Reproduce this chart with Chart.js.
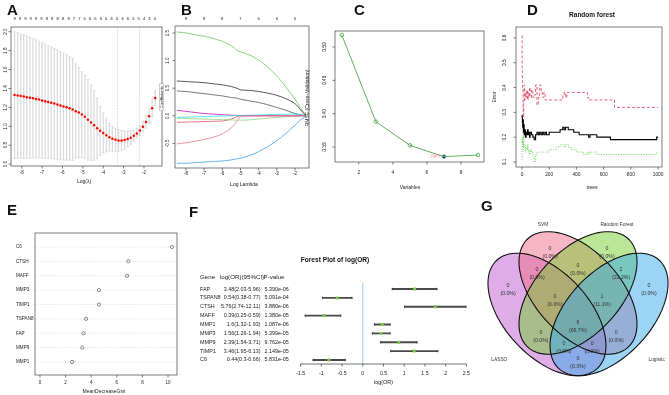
<!DOCTYPE html>
<html>
<head>
<meta charset="utf-8">
<title>Feature selection panels</title>
<script src="https://cdn.jsdelivr.net/npm/chart.js@4.4.1/dist/chart.umd.min.js"></script>
<style>
  body { margin: 0; background: #fff; }
  #page { position: relative; width: 669px; height: 395px; overflow: hidden; background: #fff; }
  #page canvas { position: absolute; left: 0; top: 0; }
</style>
</head>
<body>
<div id="page">
  <canvas id="panelA" width="669" height="395"></canvas>
  <canvas id="panelB" width="669" height="395"></canvas>
  <canvas id="panelC" width="669" height="395"></canvas>
  <canvas id="panelD" width="669" height="395"></canvas>
  <canvas id="panelE" width="669" height="395"></canvas>
  <canvas id="panelF" width="669" height="395"></canvas>
  <canvas id="panelG" width="669" height="395"></canvas>
</div>
<script>
// ---------- A : LASSO cross validation ----------
var aLogLambda = [-8.35,-8.2,-8.05,-7.9,-7.75,-7.6,-7.45,-7.3,-7.15,-7.0,-6.85,-6.7,-6.55,-6.4,-6.25,-6.1,-5.95,-5.8,-5.65,-5.5,
  -5.35,-5.2,-5.05,-4.9,-4.75,-4.6,-4.45,-4.3,-4.15,-4.0,-3.85,-3.7,-3.55,-3.4,-3.25,-3.1,-2.95,-2.8,-2.65,-2.5,
  -2.35,-2.2,-2.05,-1.9,-1.75,-1.6,-1.45];
var aCvMean = [1.330,1.325,1.320,1.314,1.308,1.302,1.296,1.289,1.282,1.274,1.266,1.258,1.249,1.240,1.230,1.220,1.210,1.200,1.190,1.178,
  1.160,1.145,1.125,1.100,1.070,1.040,1.010,0.980,0.952,0.928,0.905,0.885,0.868,0.857,0.850,0.850,0.855,0.865,0.880,0.900,
  0.925,0.955,0.995,1.045,1.105,1.190,1.300];
var aCvUpper = [2.000,1.990,1.978,1.966,1.953,1.940,1.927,1.913,1.899,1.885,1.870,1.855,1.840,1.824,1.808,1.792,1.775,1.757,1.738,1.716,
  1.660,1.620,1.580,1.540,1.495,1.440,1.380,1.300,1.210,1.140,1.080,1.030,1.000,0.978,0.965,0.955,0.950,0.948,0.950,0.958,
  0.975,1.005,1.050,1.110,1.180,1.280,1.380];
var aCvLower = [0.660,0.660,0.662,0.662,0.663,0.664,0.665,0.665,0.665,0.663,0.662,0.661,0.658,0.656,0.652,0.648,0.645,0.643,0.642,0.640,
  0.660,0.670,0.670,0.660,0.645,0.640,0.640,0.660,0.694,0.716,0.730,0.740,0.736,0.736,0.735,0.745,0.760,0.782,0.810,0.842,
  0.875,0.905,0.940,0.980,1.030,1.100,1.220];
var aNonzeroAt = [-8.35,-8.09,-7.82,-7.56,-7.29,-7.03,-6.76,-6.50,-6.23,-5.97,-5.70,-5.44,-5.17,-4.91,-4.64,-4.38,-4.11,-3.85,-3.58,-3.32,-3.05,-2.79,-2.52,-2.26,-1.99,-1.73,-1.46];
var aNonzero = [9,9,9,9,9,9,8,8,8,8,8,7,7,6,6,6,6,6,6,6,6,6,5,5,4,3,0];
var aLambdaMin = -3.3;
var aLambda1se = -2.22;

// ---------- B : coefficient paths ----------
var bLogLambda = [-8.5,-8,-7.5,-7,-6.5,-6,-5.5,-5.2,-5,-4.5,-4,-3.5,-3,-2.5,-2,-1.7,-1.4];
var bCoefGreen = [1.52,1.50,1.47,1.44,1.40,1.35,1.27,1.19,1.16,1.10,1.01,0.88,0.72,0.52,0.30,0.15,0];
var bCoefBlack = [0.63,0.62,0.61,0.60,0.58,0.56,0.53,0.50,0.47,0.46,0.44,0.41,0.37,0.31,0.22,0.11,0];
var bCoefGray = [0.45,0.44,0.42,0.40,0.38,0.36,0.33,0.32,0.30,0.27,0.24,0.20,0.15,0.10,0.04,0.02,0];
var bCoefMagenta = [0.10,0.08,0.06,0.04,0.03,0.02,0.01,0.005,0,0,0,0,0,0,0,0,0];
var bCoefCyan = [-0.03,-0.025,-0.02,-0.015,-0.01,-0.005,0,0.003,0.005,0.01,0.015,0.02,0.025,0.03,0.03,0.02,0];
var bCoefLime = [-0.045,-0.05,-0.055,-0.06,-0.065,-0.07,-0.075,-0.08,-0.08,-0.075,-0.06,-0.045,-0.03,-0.015,-0.005,0,0];
var bCoefRed = [-0.12,-0.115,-0.11,-0.105,-0.10,-0.095,-0.06,-0.02,0,0,0,0,0,0,0,0,0];
var bCoefPink = [-0.51,-0.49,-0.46,-0.43,-0.39,-0.33,-0.22,-0.10,-0.02,0,0,0,0,0,0,0,0];
var bCoefBlue = [-0.86,-0.86,-0.85,-0.84,-0.83,-0.82,-0.80,-0.78,-0.77,-0.72,-0.65,-0.56,-0.45,-0.32,-0.17,-0.08,0];
var bTopAt = [-8,-7,-6,-5,-4,-3,-2];
var bTop = [9,8,8,7,6,6,5];

// ---------- C : SVM-RFE ----------
var cVars = [1,3,5,7,9];
var cRmse = [0.518,0.388,0.3525,0.3355,0.338];
var cBest = 7;

// ---------- D : random forest error ----------
var dTrees = [1,3,5,8,10,13,16,20,25,30,35,40,45,50,55,60,70,80,90,100,110,120,130,140,150,160,170,180,200,220,
  250,280,300,310,320,330,340,360,380,400,420,450,480,490,500,550,600,650,680,690,800,900,990,1000];
var dOob = [0.29,0.28,0.26,0.24,0.27,0.22,0.25,0.21,0.23,0.20,0.22,0.21,0.23,0.21,0.22,0.20,0.22,0.21,0.20,0.19,
  0.21,0.22,0.21,0.22,0.21,0.22,0.21,0.22,0.21,0.22,0.22,0.22,0.23,0.24,0.23,0.24,0.24,0.23,0.23,0.22,
  0.22,0.21,0.21,0.21,0.20,0.21,0.20,0.20,0.19,0.19,0.19,0.19,0.19,0.20];
var dClass1 = [0.61,0.47,0.43,0.40,0.31,0.28,0.34,0.41,0.35,0.38,0.36,0.39,0.35,0.38,0.36,0.40,0.36,0.39,0.36,0.37,
  0.41,0.33,0.36,0.41,0.38,0.36,0.38,0.35,0.35,0.35,0.35,0.35,0.35,0.37,0.38,0.36,0.38,0.38,0.38,0.38,
  0.38,0.38,0.38,0.36,0.35,0.35,0.35,0.35,0.35,0.32,0.32,0.32,0.32,0.32];
var dClass2 = [0.11,0.20,0.17,0.19,0.15,0.21,0.17,0.16,0.17,0.14,0.16,0.15,0.17,0.14,0.15,0.13,0.15,0.14,0.12,0.10,
  0.13,0.14,0.14,0.14,0.14,0.14,0.14,0.14,0.14,0.15,0.15,0.16,0.17,0.17,0.16,0.17,0.17,0.16,0.15,0.15,
  0.14,0.14,0.13,0.14,0.13,0.14,0.13,0.13,0.13,0.13,0.13,0.13,0.13,0.14];

// ---------- E : variable importance ----------
var eGenes = ['C6','CTSH','MAFF','MMP3','TIMP1','TSPAN8','FAP','MMP9','MMP1'];
var eGini = [10.3,6.9,6.8,4.6,4.6,3.6,3.4,3.3,2.5];

// ---------- F : forest plot ----------
var fGenes = ['FAP','TSPAN8','CTSH','MAFF','MMP1','MMP3','MMP9','TIMP1','C6'];
var fOR = [3.48,0.54,5.76,0.39,1.6,1.56,2.39,3.46,0.44];
var fOrLow = [2.03,0.38,2.74,0.25,1.32,1.26,1.54,1.95,0.3];
var fOrHigh = [5.96,0.77,12.11,0.59,1.93,1.94,3.71,6.13,0.66];
var fPvalue = ['5.390e-06','5.091e-04','3.880e-06','1.380e-05','1.087e-06','5.399e-05','9.762e-05','2.149e-05','5.831e-05'];
var fLogOR = [1.25,-0.62,1.75,-0.94,0.47,0.44,0.87,1.24,-0.82];
var fLogLow = [0.71,-0.97,1.01,-1.39,0.28,0.23,0.43,0.67,-1.20];
var fLogHigh = [1.79,-0.26,2.49,-0.53,0.66,0.66,1.31,1.81,-0.42];
var fTicks = [-1.5,-1,-0.5,0,0.5,1,1.5,2,2.5];

// ---------- G : venn ----------
var gSets = ['LASSO','SVM','Random Forest','Logistic'];
var gRegions = ['SVM','RF','LASSO&SVM','SVM&RF','RF&Logistic','LASSO','Logistic','LASSO&SVM&RF','SVM&RF&Logistic',
  'all','LASSO&RF','SVM&Logistic','LASSO&RF&Logistic','LASSO&SVM&Logistic','LASSO&Logistic'];
var gCounts = [0,0,0,0,2,0,0,0,1,6,0,0,0,0,0];

// layout of the venn (unit square), not data
var vennShapes = [
  { cx: 0.35, cy: 0.47, a: 0.35, b: 0.2, angle: -45, fill: 'rgba(190,90,205,0.5)' },
  { cx: 0.50, cy: 0.57, a: 0.35, b: 0.2, angle: -45, fill: 'rgba(240,110,135,0.5)' },
  { cx: 0.50, cy: 0.57, a: 0.35, b: 0.2, angle: 45, fill: 'rgba(120,205,50,0.5)' },
  { cx: 0.65, cy: 0.47, a: 0.35, b: 0.2, angle: 45, fill: 'rgba(55,170,235,0.5)' }
];
var vennRegionPos = [[0.365,0.756],[0.640,0.756],[0.302,0.658],[0.5,0.681],[0.708,0.658],[0.162,0.584],[0.843,0.584],
  [0.389,0.533],[0.616,0.533],[0.5,0.412],[0.321,0.365],[0.684,0.365],[0.432,0.314],[0.568,0.314],[0.5,0.244]];
var vennSetPos = [[0.12,0.258],[0.331,0.886],[0.688,0.886],[0.88,0.258]];

var FONT = '"Liberation Sans", Arial, Helvetica, sans-serif';
var NARROW = '"Liberation Sans Narrow", "Liberation Sans", Arial, sans-serif';
var PAGE_W = 669, PAGE_H = 395;

function area(x0, y0, x1, y1) {
  return { padding: { left: x0, top: y0, right: PAGE_W - x1, bottom: PAGE_H - y1 } };
}

function drawText(ctx, s, x, y, o) {
  o = o || {};
  ctx.save();
  ctx.font = (o.bold ? 'bold ' : '') + (o.size || 5) + 'px ' + (o.family || FONT);
  ctx.fillStyle = o.color || '#222';
  ctx.textAlign = o.align || 'center';
  ctx.textBaseline = o.base || 'middle';
  ctx.translate(x, y);
  if (o.rot) ctx.rotate(-Math.PI / 2);
  ctx.fillText(s, 0, 0);
  ctx.restore();
}

function seg(ctx, x0, y0, x1, y1) {
  ctx.beginPath();
  ctx.moveTo(x0, y0);
  ctx.lineTo(x1, y1);
  ctx.stroke();
}

// base-R like frame, ticks and titles
var rAxes = {
  id: 'rAxes',
  afterDraw: function(chart, args, o) {
    var ctx = chart.ctx, a = chart.chartArea, xs = chart.scales.x, ys = chart.scales.y;
    var f = o.frame || [a.left, a.top, a.right, a.bottom];
    ctx.save();
    ctx.strokeStyle = '#444';
    ctx.lineWidth = 0.7;
    if (o.box) ctx.strokeRect(f[0], f[1], f[2] - f[0], f[3] - f[1]);
    if (o.xTicks) {
      o.xTicks.forEach(function(v) {
        var px = xs.getPixelForValue(v);
        seg(ctx, px, f[3], px, f[3] + 2.5);
        drawText(ctx, o.xFmt ? o.xFmt(v) : String(v), px, o.xLabelY, { size: o.tickSize || 5 });
      });
    }
    if (o.yTicks) {
      o.yTicks.forEach(function(v) {
        var py = ys.getPixelForValue(v);
        seg(ctx, f[0] - 2.5, py, f[0], py);
        drawText(ctx, o.yFmt ? o.yFmt(v) : String(v), o.yLabelX, py, { size: o.tickSize || 5, rot: true });
      });
    }
    if (o.xTitle) drawText(ctx, o.xTitle[0], o.xTitle[1], o.xTitle[2], { size: 5 });
    if (o.yTitle) drawText(ctx, o.yTitle[0], o.yTitle[1], o.yTitle[2], { size: 5, rot: true });
    if (o.title) drawText(ctx, o.title[0], o.title[1], o.title[2], { size: 6.5, bold: true, color: '#111' });
    if (o.letter) drawText(ctx, o.letter[0], o.letter[1], o.letter[2], { size: 15, bold: true, align: 'left', base: 'alphabetic', color: '#111' });
    ctx.restore();
  }
};
Chart.register(rAxes);

function baseOptions(pad, xr, yr, axes) {
  return {
    responsive: false,
    animation: false,
    devicePixelRatio: 1,
    events: [],
    layout: pad,
    scales: {
      x: { type: 'linear', display: false, min: xr[0], max: xr[1], offset: false },
      y: { type: 'linear', display: false, min: yr[0], max: yr[1], offset: false }
    },
    plugins: { legend: { display: false }, tooltip: { enabled: false }, rAxes: axes }
  };
}

function pairs(xsArr, ysArr) {
  return xsArr.map(function(x, i) { return { x: x, y: ysArr[i] }; });
}

// ---------------- A ----------------
var aExtras = {
  id: 'aExtras',
  beforeDatasetsDraw: function(chart) {
    var ctx = chart.ctx, xs = chart.scales.x, ys = chart.scales.y, a = chart.chartArea;
    ctx.save();
    ctx.strokeStyle = '#d2d2d2';
    ctx.lineWidth = 0.6;
    aLogLambda.forEach(function(l, i) {
      var px = xs.getPixelForValue(l);
      seg(ctx, px - 1.4, ys.getPixelForValue(aCvUpper[i]), px + 1.4, ys.getPixelForValue(aCvUpper[i]));
      seg(ctx, px - 1.4, ys.getPixelForValue(aCvLower[i]), px + 1.4, ys.getPixelForValue(aCvLower[i]));
    });
    ctx.strokeStyle = '#c4c4c4';
    ctx.setLineDash([1.5, 1.2]);
    [aLambdaMin, aLambda1se].forEach(function(l) {
      var px = xs.getPixelForValue(l);
      seg(ctx, px, a.top, px, a.bottom);
    });
    ctx.restore();
  },
  afterDraw: function(chart) {
    var xs = chart.scales.x;
    aNonzero.forEach(function(n, i) {
      drawText(chart.ctx, String(n), xs.getPixelForValue(aNonzeroAt[i]), 19, { size: 4.2 });
    });
  }
};

new Chart(document.getElementById('panelA'), {
  type: 'scatter',
  data: {
    datasets: [
      {
        type: 'bar',
        data: aLogLambda.map(function(l, i) { return { x: l, y: [aCvLower[i], aCvUpper[i]] }; }),
        backgroundColor: '#dadada',
        barThickness: 0.6,
        order: 2
      },
      {
        type: 'scatter',
        data: pairs(aLogLambda, aCvMean),
        pointRadius: 1.25,
        pointBackgroundColor: '#ff0000',
        pointBorderWidth: 0,
        order: 1
      }
    ]
  },
  options: baseOptions(area(11, 27, 162, 166), [-8.526, -1.116], [0.58, 2.05], {
    box: true,
    xTicks: [-8, -7, -6, -5, -4, -3, -2], xLabelY: 173,
    yTicks: [0.6, 0.8, 1.0, 1.2, 1.4, 1.6, 1.8, 2.0], yLabelX: 6, yFmt: function(v) { return v.toFixed(1); },
    tickSize: 4.5,
    xTitle: ['Log(\u03bb)', 84, 182],
    letter: ['A', 7, 15]
  }),
  plugins: [aExtras]
});

// ---------------- B ----------------
var bSeries = [
  [bCoefBlack, '#2b2b2b'], [bCoefPink, '#e8788a'], [bCoefGreen, '#61d04f'], [bCoefBlue, '#3aa2ea'],
  [bCoefCyan, '#28e2e5'], [bCoefMagenta, '#cd0bbc'], [bCoefLime, '#9ad07a'], [bCoefGray, '#555555'], [bCoefRed, '#df536b']
];
var bExtras = {
  id: 'bExtras',
  afterDraw: function(chart) {
    var ctx = chart.ctx, xs = chart.scales.x;
    bTop.forEach(function(n, i) {
      drawText(ctx, String(n), xs.getPixelForValue(bTopAt[i]), 19, { size: 4.2 });
    });
    ctx.save();
    ctx.fillStyle = '#fff';
    ctx.strokeStyle = '#999';
    ctx.lineWidth = 0.5;
    ctx.fillRect(159.5, 84, 4, 26);
    ctx.strokeRect(159.5, 84, 4, 26);
    ctx.restore();
    drawText(ctx, 'Coefficients', 161.5, 97, { size: 4.2, rot: true });
  }
};
new Chart(document.getElementById('panelB'), {
  type: 'scatter',
  data: {
    datasets: bSeries.map(function(s) {
      return { data: pairs(bLogLambda, s[0]), showLine: true, borderColor: s[1], borderWidth: 0.8, pointRadius: 0, tension: 0.3 };
    })
  },
  options: baseOptions(area(175, 26, 309, 168), [-8.6, -1.23], [-0.947, 1.627], {
    box: true,
    xTicks: [-8, -7, -6, -5, -4, -3, -2], xLabelY: 174,
    yTicks: [-0.5, 0, 0.5, 1.0, 1.5], yLabelX: 168, yFmt: function(v) { return v.toFixed(1); },
    tickSize: 4.5,
    xTitle: ['Log Lambda', 244, 185],
    letter: ['B', 181, 15]
  }),
  plugins: [bExtras]
});

// ---------------- C ----------------
var cExtras = {
  id: 'cExtras',
  afterDraw: function(chart) {
    var i = cVars.indexOf(cBest);
    var px = chart.scales.x.getPixelForValue(cVars[i]);
    var py = chart.scales.y.getPixelForValue(cRmse[i]);
    drawText(chart.ctx, 'N=' + cBest, px - 3.5, py, { size: 5, align: 'right', color: '#f07890' });
  }
};
new Chart(document.getElementById('panelC'), {
  type: 'scatter',
  data: {
    datasets: [
      {
        data: pairs(cVars, cRmse), showLine: true, borderColor: '#5fae5f', borderWidth: 1,
        pointRadius: 1.8, pointBackgroundColor: 'rgba(0,0,0,0)', pointBorderColor: '#5fae5f', pointBorderWidth: 0.9
      },
      {
        data: [{ x: cBest, y: cRmse[cVars.indexOf(cBest)] }],
        pointRadius: 1.8, pointBackgroundColor: '#0000ff', pointBorderColor: '#0000ff', pointBorderWidth: 0
      }
    ]
  },
  options: baseOptions(area(335, 31, 484, 162), [0.6, 9.35], [0.3275, 0.524], {
    box: true,
    xTicks: [2, 4, 6, 8], xLabelY: 173,
    yTicks: [0.35, 0.40, 0.45, 0.50], yLabelX: 325, yFmt: function(v) { return v.toFixed(2); },
    tickSize: 4.8,
    xTitle: ['Variables', 410, 188],
    yTitle: ['RMSE (Cross\u2212Validation)', 308, 98],
    letter: ['C', 354, 15]
  }),
  plugins: [cExtras]
});

// ---------------- D ----------------
new Chart(document.getElementById('panelD'), {
  type: 'scatter',
  data: {
    datasets: [
      { data: pairs(dTrees, dClass1), showLine: true, stepped: 'after', borderColor: '#df536b', borderWidth: 0.9, borderDash: [3, 2], pointRadius: 0 },
      { data: pairs(dTrees, dClass2), showLine: true, stepped: 'after', borderColor: '#61d04f', borderWidth: 0.9, borderDash: [1, 1.5], pointRadius: 0 },
      { data: pairs(dTrees, dOob), showLine: true, stepped: 'after', borderColor: '#000000', borderWidth: 1.1, pointRadius: 0 }
    ]
  },
  options: baseOptions(area(516, 27, 662, 167), [-44, 1029], [0.0798, 0.644], {
    box: true,
    xTicks: [0, 200, 400, 600, 800, 1000], xLabelY: 175,
    yTicks: [0.1, 0.2, 0.3, 0.4, 0.5, 0.6], yLabelX: 505, yFmt: function(v) { return v.toFixed(1); },
    tickSize: 4.8,
    xTitle: ['trees', 592, 188],
    yTitle: ['Error', 495, 97],
    title: ['Random forest', 592, 15],
    letter: ['D', 527, 15]
  })
});

// ---------------- E ----------------
var eExtras = {
  id: 'eExtras',
  beforeDatasetsDraw: function(chart) {
    var ctx = chart.ctx, ys = chart.scales.y;
    ctx.save();
    ctx.strokeStyle = '#c8c8c8';
    ctx.lineWidth = 0.6;
    ctx.setLineDash([1, 1.5]);
    eGenes.forEach(function(g, i) {
      var py = ys.getPixelForValue(i);
      seg(ctx, 35, py, 177, py);
    });
    ctx.restore();
    eGenes.forEach(function(g, i) {
      drawText(ctx, g, 16, ys.getPixelForValue(i), { size: 4.6, align: 'left' });
    });
  }
};
var eOptions = baseOptions(area(35, 247, 177, 362), [-0.39, 10.7], [0, 1], {
  box: true, frame: [35, 233, 177, 375],
  xTicks: [0, 2, 4, 6, 8, 10], xLabelY: 383,
  tickSize: 4.5,
  xTitle: ['MeanDecreaseGini', 104, 391.5],
  letter: ['E', 7, 215]
});
eOptions.scales.y = { type: 'category', labels: eGenes, display: false, offset: false };
new Chart(document.getElementById('panelE'), {
  type: 'scatter',
  data: {
    datasets: [{
      data: eGenes.map(function(g, i) { return { x: eGini[i], y: g }; }),
      pointRadius: 1.6, pointBackgroundColor: 'rgba(0,0,0,0)', pointBorderColor: '#555', pointBorderWidth: 0.7
    }]
  },
  options: eOptions,
  plugins: [eExtras]
});

// ---------------- F ----------------
var fExtras = {
  id: 'fExtras',
  beforeDatasetsDraw: function(chart) {
    var ctx = chart.ctx, xs = chart.scales.x;
    ctx.save();
    ctx.strokeStyle = '#87cefa';
    ctx.lineWidth = 0.9;
    var x0 = xs.getPixelForValue(0);
    seg(ctx, x0, 283, x0, 364);
    ctx.restore();
  },
  afterDraw: function(chart) {
    var ctx = chart.ctx, xs = chart.scales.x, ys = chart.scales.y;
    ctx.save();
    ctx.strokeStyle = '#333';
    ctx.lineWidth = 0.7;
    fGenes.forEach(function(g, i) {
      var py = ys.getPixelForValue(i);
      seg(ctx, xs.getPixelForValue(fLogLow[i]), py - 1.3, xs.getPixelForValue(fLogLow[i]), py + 1.3);
      seg(ctx, xs.getPixelForValue(fLogHigh[i]), py - 1.3, xs.getPixelForValue(fLogHigh[i]), py + 1.3);
    });
    var axisY = 364;
    seg(ctx, xs.getPixelForValue(fTicks[0]), axisY, xs.getPixelForValue(fTicks[fTicks.length - 1]), axisY);
    fTicks.forEach(function(v) {
      var px = xs.getPixelForValue(v);
      seg(ctx, px, axisY, px, axisY + 2.5);
      drawText(ctx, String(v), px, 373.5, { size: 5.2, family: NARROW });
    });
    ctx.restore();
    drawText(ctx, 'log(OR)', xs.getPixelForValue(0.5), 383, { size: 5.4, family: NARROW });
    drawText(ctx, 'Forest Plot of log(OR)', 335, 260, { size: 6.6, bold: true, color: '#111', family: NARROW });
    drawText(ctx, 'Gene', 200, 277, { size: 6.2, align: 'left', family: NARROW });
    drawText(ctx, 'log(OR)(95%CI)', 242, 277, { size: 6.2, family: NARROW });
    drawText(ctx, 'P-value', 274, 277, { size: 6.2, family: NARROW });
    fGenes.forEach(function(g, i) {
      var py = ys.getPixelForValue(i);
      drawText(ctx, g, 200, py, { size: 5.4, align: 'left', family: NARROW });
      drawText(ctx, fOR[i] + '(' + fOrLow[i] + '-' + fOrHigh[i] + ')', 260.5, py, { size: 5.4, align: 'right', family: NARROW });
      drawText(ctx, fPvalue[i], 264.5, py, { size: 5.4, align: 'left', family: NARROW });
    });
    drawText(ctx, 'F', 189, 217, { size: 15, bold: true, align: 'left', base: 'alphabetic', color: '#111' });
  }
};
new Chart(document.getElementById('panelF'), {
  type: 'bar',
  data: {
    labels: fGenes,
    datasets: [
      {
        data: fGenes.map(function(g, i) { return [fLogLow[i], fLogHigh[i]]; }),
        backgroundColor: '#4a4a4a', barThickness: 1.2, order: 2
      },
      {
        type: 'line',
        data: fGenes.map(function(g, i) { return { x: fLogOR[i], y: g }; }),
        showLine: false, pointStyle: 'rect', pointRadius: 2.1,
        pointBackgroundColor: '#7fc84e', pointBorderWidth: 0, order: 1
      }
    ]
  },
  options: {
    indexAxis: 'y',
    responsive: false, animation: false, devicePixelRatio: 1, events: [],
    layout: area(300.6, 284.6, 466.4, 364.4),
    scales: {
      x: { type: 'linear', display: false, min: -1.5, max: 2.5, offset: false },
      y: { type: 'category', display: false, offset: true }
    },
    plugins: { legend: { display: false }, tooltip: { enabled: false } }
  },
  plugins: [fExtras]
});

// ---------------- G ----------------
function ellipsePath(ctx, xs, ys, e) {
  var th = e.angle * Math.PI / 180;
  ctx.beginPath();
  for (var k = 0; k <= 90; k++) {
    var t = k / 90 * 2 * Math.PI;
    var u = e.cx + e.a * Math.cos(t) * Math.cos(th) - e.b * Math.sin(t) * Math.sin(th);
    var v = e.cy + e.a * Math.cos(t) * Math.sin(th) + e.b * Math.sin(t) * Math.cos(th);
    var px = xs.getPixelForValue(u), py = ys.getPixelForValue(v);
    if (k === 0) ctx.moveTo(px, py); else ctx.lineTo(px, py);
  }
  ctx.closePath();
}
var total = gCounts.reduce(function(s, c) { return s + c; }, 0);
var gVenn = {
  id: 'gVenn',
  afterDraw: function(chart) {
    var ctx = chart.ctx, xs = chart.scales.x, ys = chart.scales.y;
    ctx.save();
    vennShapes.forEach(function(e) {
      ellipsePath(ctx, xs, ys, e);
      ctx.fillStyle = e.fill;
      ctx.fill();
    });
    ctx.strokeStyle = '#111';
    ctx.lineWidth = 1.1;
    vennShapes.forEach(function(e) {
      ellipsePath(ctx, xs, ys, e);
      ctx.stroke();
    });
    ctx.restore();
    gCounts.forEach(function(c, i) {
      var px = xs.getPixelForValue(vennRegionPos[i][0]);
      var py = ys.getPixelForValue(vennRegionPos[i][1]);
      drawText(ctx, String(c), px, py - 4, { size: 5.2, color: '#333' });
      drawText(ctx, '(' + (c / total * 100).toFixed(1) + '%)', px, py + 4, { size: 5.2, color: '#333' });
    });
    gSets.forEach(function(s, i) {
      drawText(ctx, s, xs.getPixelForValue(vennSetPos[i][0]), ys.getPixelForValue(vennSetPos[i][1]), { size: 4.8, color: '#333' });
    });
    drawText(ctx, 'G', 481, 211, { size: 15, bold: true, align: 'left', base: 'alphabetic', color: '#111' });
  }
};
new Chart(document.getElementById('panelG'), {
  type: 'scatter',
  data: { datasets: [] },
  options: baseOptions(area(475, 200, 669, 395), [0.0024, 0.9396], [0.0953, 1.0023], {}),
  plugins: [gVenn]
});
</script>
</body>
</html>
